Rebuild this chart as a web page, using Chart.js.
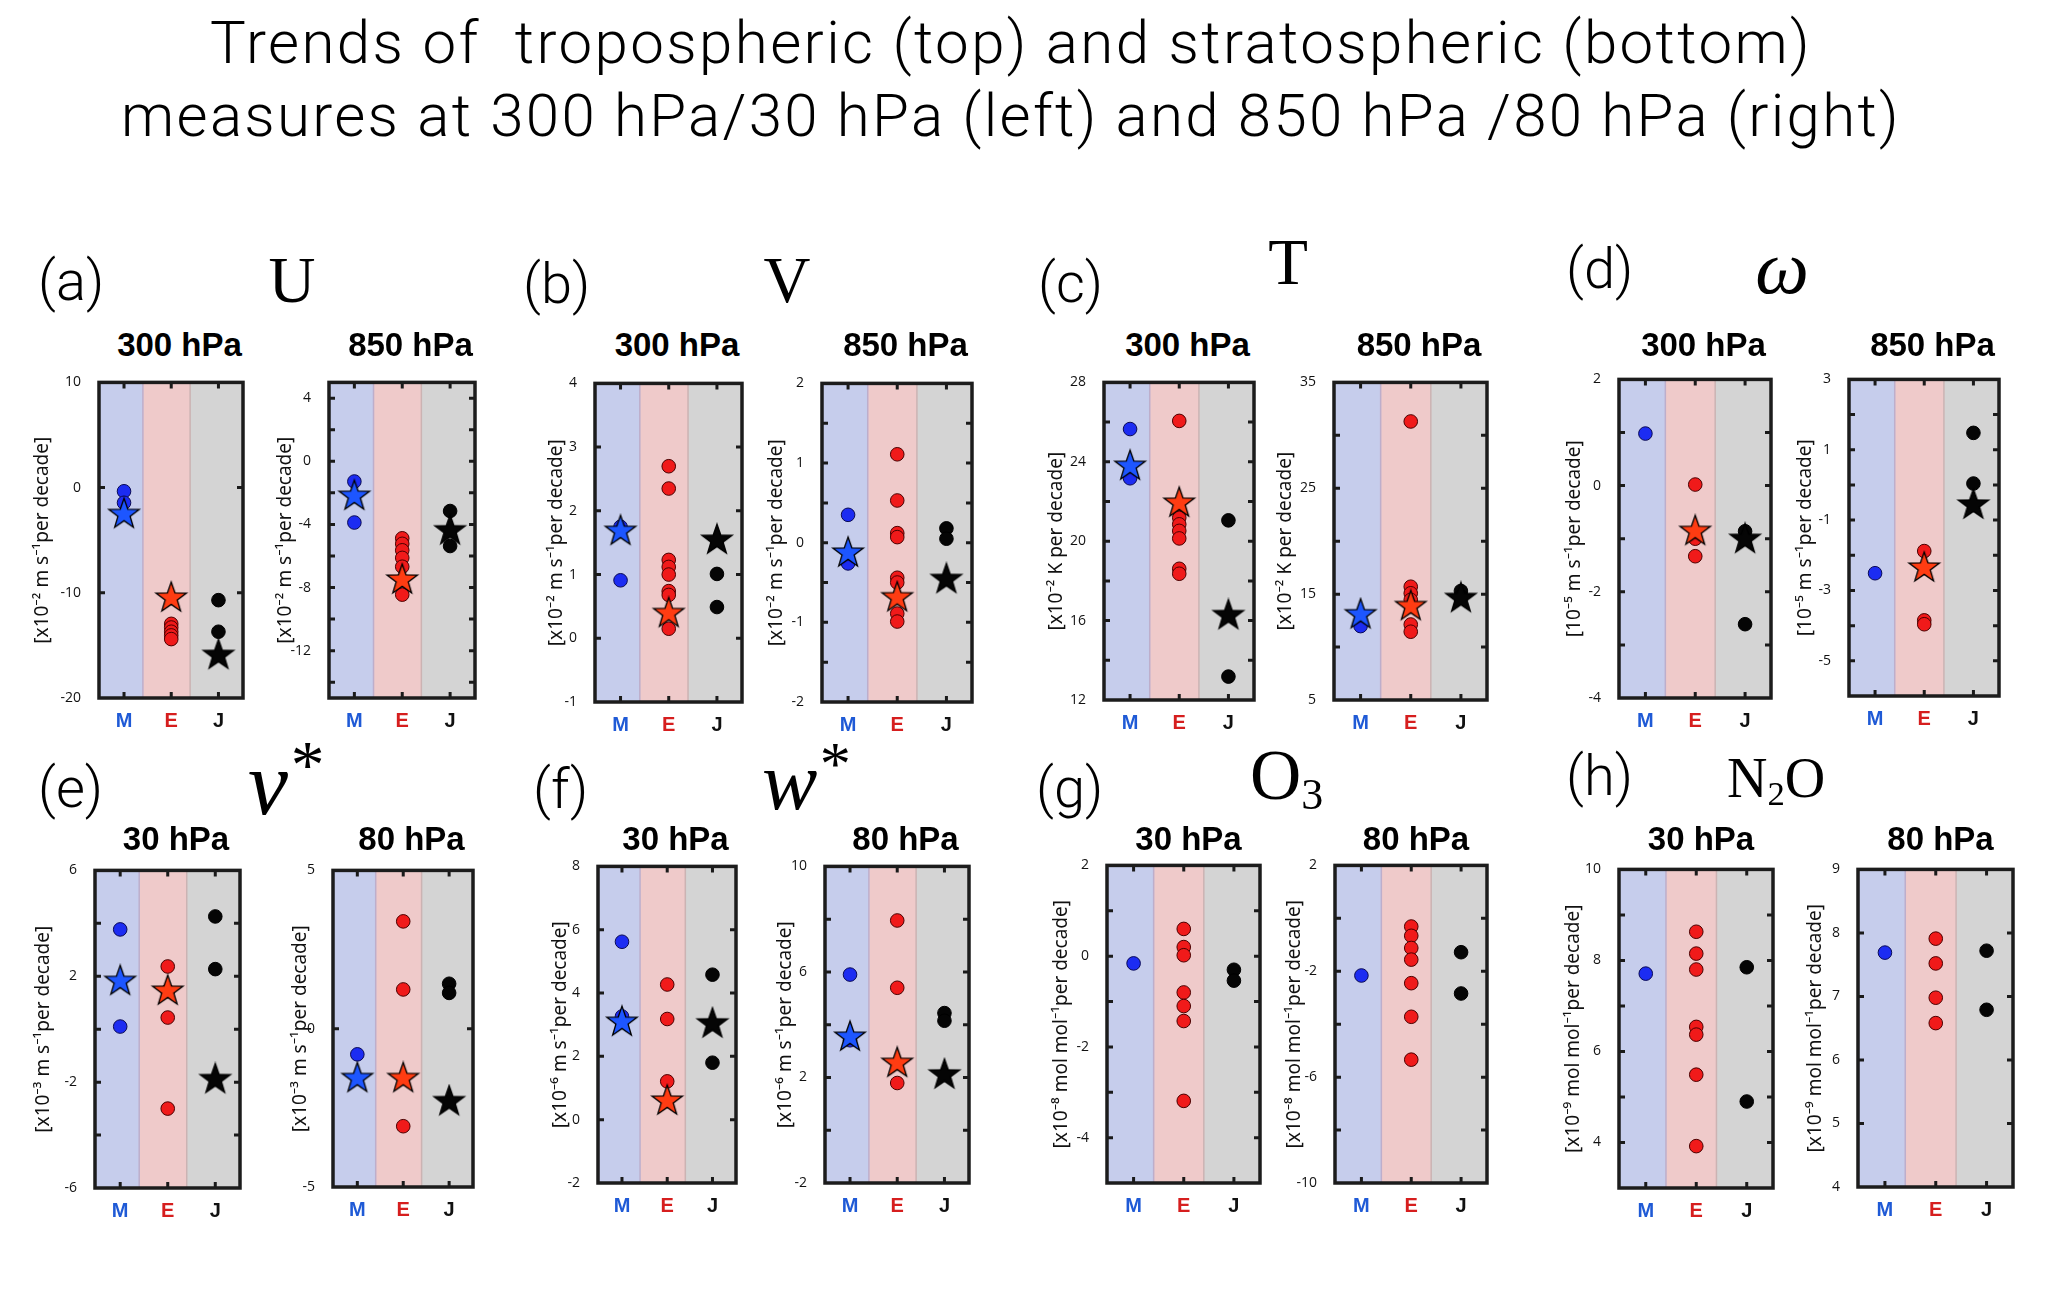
<!DOCTYPE html>
<html>
<head>
<meta charset="utf-8">
<title>Trends of tropospheric and stratospheric measures</title>
<script src="https://cdn.jsdelivr.net/npm/chart.js@4.4.1/dist/chart.umd.min.js"></script>
<style>
html, body { margin: 0; padding: 0; background: #fff; }
#page { position: relative; width: 2067px; height: 1297px; overflow: hidden; }
.lbl { position: absolute; white-space: pre; line-height: 1; color: #000; }
.plot { position: absolute; }
</style>
</head>
<body>
<div id="page"></div>
<script>
// ---- data ----
const groups = ['M', 'E', 'J'];

// dots = single simulations, stars = ensemble means (null = no star)
const u300Dots = [[-0.35, -1.44], [-12.95, -13.3, -13.7, -14.05, -14.4], [-10.7, -13.7]];
const u300Stars = [-2.54, -10.5, -15.94];
const u850Dots = [[-1.28, -3.88], [-4.88, -5.23, -5.64, -6.12, -6.68, -8.45], [-3.15, -5.37]];
const u850Stars = [-2.21, -7.52, -4.4];

const v300Dots = [[0.91, 1.75], [2.7, 2.35, 1.23, 1.12, 1.0, 0.74, 0.68, 0.15], [1.01, 0.49]];
const v300Stars = [1.68, 0.39, 1.54];
const v850Dots = [[0.35, -0.26], [1.11, 0.53, 0.12, 0.07, -0.44, -0.5, -0.89, -0.99], [0.18, 0.05]];
const v850Stars = [-0.13, -0.69, -0.46];

const t300Dots = [[25.65, 23.17], [26.06, 21.51, 21.18, 20.85, 20.52, 20.14, 18.61, 18.36], [21.05, 13.18]];
const t300Stars = [23.78, 21.92, 16.26];
const t850Dots = [[11.98], [31.31, 15.7, 15.08, 14.46, 12.13, 11.45], [15.3, 14.77]];
const t850Stars = [13.06, 13.84, 14.6];

const om300Dots = [[0.98], [0.02, -1.0, -1.33], [-0.86, -2.61]];
const om300Stars = [null, -0.86, -1.01];
const om850Dots = [[-2.51], [-1.88, -3.85, -3.96], [1.48, 0.04]];
const om850Stars = [null, -2.36, -0.57];

const vs30Dots = [[3.77, 0.1], [2.37, 1.44, 0.44, -3.0], [4.26, 2.27]];
const vs30Stars = [1.81, 1.44, -1.9];
const vs80Dots = [[-0.81], [3.39, 1.24, -3.08], [1.42, 1.13]];
const vs80Stars = [-1.57, -1.57, -2.3];

const ws30Dots = [[5.62, 3.26], [4.27, 3.18, 1.21], [4.58, 1.8]];
const ws30Stars = [3.08, 0.59, 3.03];
const ws80Dots = [[5.9, 3.41], [7.95, 5.4, 1.79], [4.44, 4.15]];
const ws80Stars = [3.53, 2.54, 2.1];

const o3_30Dots = [[-0.16], [0.6, 0.2, 0.02, -0.8, -1.1, -1.43, -3.19], [-0.3, -0.54]];
const o3_80Dots = [[-2.16], [-0.31, -0.66, -1.12, -1.56, -2.45, -3.72, -5.34], [-1.28, -2.84]];

const n2o30Dots = [[7.71], [8.63, 8.15, 7.8, 6.54, 6.37, 5.49, 3.92], [7.85, 4.9]];
const n2o80Dots = [[7.69], [7.91, 7.52, 6.98, 6.58], [7.72, 6.79]];

// y ranges and labelled ticks
const u300Range = [-20, 10], u300TickLabels = [10, 0, -10, -20];
const u850Range = [-15, 5], u850TickLabels = [4, 0, -4, -8, -12];
const v300Range = [-1, 4], v300TickLabels = [4, 3, 2, 1, 0, -1];
const v850Range = [-2, 2], v850TickLabels = [2, 1, 0, -1, -2];
const t300Range = [12, 28], t300TickLabels = [28, 24, 20, 16, 12];
const t850Range = [5, 35], t850TickLabels = [35, 25, 15, 5];
const om300Range = [-4, 2], om300TickLabels = [2, 0, -2, -4];
const om850Range = [-6, 3], om850TickLabels = [3, 1, -1, -3, -5];
const vs30Range = [-6, 6], vs30TickLabels = [6, 2, -2, -6];
const vs80Range = [-5, 5], vs80TickLabels = [5, 0, -5];
const ws30Range = [-2, 8], ws30TickLabels = [8, 6, 4, 2, 0, -2];
const ws80Range = [-2, 10], ws80TickLabels = [10, 6, 2, -2];
const o3_30Range = [-5, 2], o3_30TickLabels = [2, 0, -2, -4];
const o3_80Range = [-10, 2], o3_80TickLabels = [2, -2, -6, -10];
const n2o30Range = [3, 10], n2o30TickLabels = [10, 8, 6, 4];
const n2o80Range = [4, 9], n2o80TickLabels = [9, 8, 7, 6, 5, 4];

const unitWind2 = '[x10\u207B\u00B2 m s\u207B\u00B9per decade]';
const unitTemp = '[x10\u207B\u00B2 K per decade]';
const unitOmega = '[10\u207B\u2075 m s\u207B\u00B9per decade]';
const unitVstar = '[x10\u207B\u00B3 m s\u207B\u00B9per decade]';
const unitWstar = '[x10\u207B\u2076 m s\u207B\u00B9per decade]';
const unitO3 = '[x10\u207B\u2078 mol mol\u207B\u00B9per decade]';
const unitN2O = '[x10\u207B\u2079 mol mol\u207B\u00B9per decade]';

const panels = [
  { id: 'u300', title: '300 hPa', dots: u300Dots, stars: u300Stars, range: u300Range, step: 10, labels: u300TickLabels, unit: unitWind2 },
  { id: 'u850', title: '850 hPa', dots: u850Dots, stars: u850Stars, range: u850Range, step: 2, labels: u850TickLabels, unit: unitWind2 },
  { id: 'v300', title: '300 hPa', dots: v300Dots, stars: v300Stars, range: v300Range, step: 1, labels: v300TickLabels, unit: unitWind2 },
  { id: 'v850', title: '850 hPa', dots: v850Dots, stars: v850Stars, range: v850Range, step: 0.5, labels: v850TickLabels, unit: unitWind2 },
  { id: 't300', title: '300 hPa', dots: t300Dots, stars: t300Stars, range: t300Range, step: 2, labels: t300TickLabels, unit: unitTemp },
  { id: 't850', title: '850 hPa', dots: t850Dots, stars: t850Stars, range: t850Range, step: 5, labels: t850TickLabels, unit: unitTemp },
  { id: 'om300', title: '300 hPa', dots: om300Dots, stars: om300Stars, range: om300Range, step: 1, labels: om300TickLabels, unit: unitOmega },
  { id: 'om850', title: '850 hPa', dots: om850Dots, stars: om850Stars, range: om850Range, step: 1, labels: om850TickLabels, unit: unitOmega },
  { id: 'vs30', title: '30 hPa', dots: vs30Dots, stars: vs30Stars, range: vs30Range, step: 2, labels: vs30TickLabels, unit: unitVstar },
  { id: 'vs80', title: '80 hPa', dots: vs80Dots, stars: vs80Stars, range: vs80Range, step: 5, labels: vs80TickLabels, unit: unitVstar },
  { id: 'ws30', title: '30 hPa', dots: ws30Dots, stars: ws30Stars, range: ws30Range, step: 2, labels: ws30TickLabels, unit: unitWstar },
  { id: 'ws80', title: '80 hPa', dots: ws80Dots, stars: ws80Stars, range: ws80Range, step: 2, labels: ws80TickLabels, unit: unitWstar },
  { id: 'o3_30', title: '30 hPa', dots: o3_30Dots, stars: [], range: o3_30Range, step: 1, labels: o3_30TickLabels, unit: unitO3 },
  { id: 'o3_80', title: '80 hPa', dots: o3_80Dots, stars: [], range: o3_80Range, step: 2, labels: o3_80TickLabels, unit: unitO3 },
  { id: 'n2o30', title: '30 hPa', dots: n2o30Dots, stars: [], range: n2o30Range, step: 1, labels: n2o30TickLabels, unit: unitN2O },
  { id: 'n2o80', title: '80 hPa', dots: n2o80Dots, stars: [], range: n2o80Range, step: 1, labels: n2o80TickLabels, unit: unitN2O }
];

// ---- layout (page pixels) ----
// plot box [left, top, right, bottom], gap from y-title centre to the box
const boxes = {
  u300: [99, 378, 250, 698], u850: [329, 378, 482, 698],
  v300: [595, 379, 749, 702], v850: [822, 379, 979, 702],
  t300: [1104, 378, 1261, 700], t850: [1334, 378, 1494, 700],
  om300: [1619, 375, 1778, 698], om850: [1849, 375, 2006, 696],
  vs30: [95, 866, 247, 1188], vs80: [333, 866, 480, 1187],
  ws30: [598, 862, 743, 1183], ws80: [825, 862, 976, 1183],
  o3_30: [1107, 861, 1260, 1183], o3_80: [1335, 861, 1487, 1183],
  n2o30: [1619, 865, 1773, 1188], n2o80: [1858, 865, 2013, 1187]
};
const titleGaps = {
  u300: 56, u850: 43, v300: 38, v850: 45, t300: 47, t850: 48, om300: 44, om850: 43,
  vs30: 51, vs80: 32, ws30: 37, ws80: 39, o3_30: 45, o3_80: 40, n2o30: 45, n2o80: 42
};
const AXW = 70, PADT = 14, PADR = 10, AXB = 42;
const UNIT_SIZE = 19;

const bandFills = ['#c6cdec', '#efcaca', '#d4d4d4'];
const bandEdges = [1.4, 2.4];
const dotFill = ['#1c2cf2', '#f01a1a', '#050505'];
const dotEdge = ['#0a0a55', '#4a0000', '#000000'];
const starFill = ['#1d56ff', '#ff3c12', '#050505'];
const groupColors = ['#1f5ad6', '#d61e1e', '#111111'];

Chart.defaults.font.family = "'Noto Sans', 'Open Sans', sans-serif";

const page = document.getElementById('page');

function addText(html, x, baseline, size, css, center) {
  const d = document.createElement('div');
  d.className = 'lbl';
  d.innerHTML = html;
  d.style.cssText += css + ';font-size:' + size + 'px;left:' + x + 'px;top:' + (baseline - 0.84 * size) + 'px;' +
    (center ? 'transform:translateX(-50%);' : '');
  page.appendChild(d);
}

function starImage(fill, R) {
  const c = document.createElement('canvas');
  const s = Math.ceil(R * 2 + 4);
  c.width = s; c.height = s;
  const g = c.getContext('2d');
  g.beginPath();
  for (let i = 0; i < 10; i++) {
    const r = i % 2 ? R * 0.4 : R;
    const a = -Math.PI / 2 + i * Math.PI / 5;
    g.lineTo(s / 2 + r * Math.cos(a), s / 2 + r * Math.sin(a));
  }
  g.closePath();
  g.fillStyle = fill;
  g.fill();
  g.lineWidth = 1.3;
  g.strokeStyle = '#000';
  g.stroke();
  return c;
}
const starImgs = starFill.map(f => starImage(f, 16));

const framePlugin = {
  id: 'matlabFrame',
  beforeDatasetsDraw(chart) {
    const { ctx, chartArea: a, scales: { x, y } } = chart;
    const edges = [x.min, ...bandEdges, x.max];
    ctx.save();
    for (let i = 0; i < 3; i++) {
      const l = x.getPixelForValue(edges[i]);
      const r = x.getPixelForValue(edges[i + 1]);
      ctx.fillStyle = bandFills[i];
      ctx.fillRect(l, a.top, r - l, a.bottom - a.top);
    }
    ctx.lineWidth = 1.5;
    ['#bdaecb', '#cbb3b3'].forEach((c, i) => {
      const px = x.getPixelForValue(bandEdges[i]);
      ctx.strokeStyle = c;
      ctx.beginPath(); ctx.moveTo(px, a.top); ctx.lineTo(px, a.bottom); ctx.stroke();
    });
    // inward tick marks on all four sides
    ctx.strokeStyle = '#1a1a1a';
    ctx.lineWidth = 3;
    y.ticks.forEach(t => {
      const py = y.getPixelForValue(t.value);
      if (py < a.top + 3 || py > a.bottom - 3) return;
      ctx.beginPath();
      ctx.moveTo(a.left, py); ctx.lineTo(a.left + 6, py);
      ctx.moveTo(a.right - 6, py); ctx.lineTo(a.right, py);
      ctx.stroke();
    });
    x.ticks.forEach(t => {
      const px = x.getPixelForValue(t.value);
      ctx.beginPath();
      ctx.moveTo(px, a.top); ctx.lineTo(px, a.top + 6);
      ctx.moveTo(px, a.bottom - 6); ctx.lineTo(px, a.bottom);
      ctx.stroke();
    });
    ctx.lineWidth = 3.5;
    ctx.strokeStyle = '#1c1c1c';
    ctx.strokeRect(a.left, a.top, a.right - a.left, a.bottom - a.top);
    ctx.restore();
  }
};

function buildChart(p) {
  const [l, t, r, b] = boxes[p.id];
  const w = r - l + AXW + PADR;
  const h = b - t + PADT + AXB;
  const holder = document.createElement('div');
  holder.className = 'plot';
  holder.style.left = (l - AXW) + 'px';
  holder.style.top = (t - PADT) + 'px';
  const cv = document.createElement('canvas');
  cv.width = w; cv.height = h;
  cv.style.width = w + 'px'; cv.style.height = h + 'px';
  holder.appendChild(cv);
  page.appendChild(holder);

  const datasets = [];
  const starData = p.stars.map((v, i) => v == null ? null : { x: i + 1, y: v, g: i }).filter(Boolean);
  if (starData.length) {
    datasets.push({
      label: 'ensemble mean',
      data: starData,
      pointStyle: ctx => starImgs[ctx.raw ? ctx.raw.g : 0],
      pointRadius: 16,
      clip: false
    });
  }
  p.dots.forEach((vals, i) => {
    datasets.push({
      label: groups[i],
      data: vals.map(v => ({ x: i + 1, y: v })),
      pointStyle: 'circle',
      pointRadius: 6.8,
      pointBackgroundColor: dotFill[i],
      pointBorderColor: dotEdge[i],
      pointBorderWidth: 1,
      clip: false
    });
  });

  const [ymin, ymax] = p.range;
  const lh = UNIT_SIZE * 1.2;
  new Chart(cv, {
    type: 'scatter',
    data: { datasets },
    options: {
      responsive: false,
      animation: false,
      devicePixelRatio: 1,
      layout: { padding: { left: 0, top: PADT, right: PADR, bottom: 0 } },
      plugins: { legend: { display: false }, tooltip: { enabled: false } },
      events: [],
      scales: {
        x: {
          type: 'linear',
          min: 0.47,
          max: 3.52,
          grid: { display: false },
          border: { display: false },
          afterBuildTicks: s => { s.ticks = groups.map((g, i) => ({ value: i + 1 })); },
          afterFit: s => { s.height = AXB; },
          ticks: {
            autoSkip: false,
            maxRotation: 0,
            padding: 3,
            font: { family: "'Liberation Sans', Arial, sans-serif", size: 20, weight: 'bold' },
            color: ctx => groupColors[ctx.index],
            callback: v => groups[Math.round(v) - 1]
          }
        },
        y: {
          type: 'linear',
          min: ymin,
          max: ymax,
          grid: { display: false },
          border: { display: false },
          afterBuildTicks: s => {
            const out = [];
            const start = Math.ceil(ymin / p.step - 1e-9);
            for (let k = start; k * p.step <= ymax + 1e-9; k++) {
              out.push({ value: Math.round(k * p.step * 1000) / 1000 });
            }
            s.ticks = out;
          },
          afterFit: s => { s.width = AXW; },
          ticks: {
            autoSkip: false,
            padding: 10,
            color: '#111',
            font: { family: "'Open Sans', 'Noto Sans', sans-serif", size: 14 },
            callback: v => p.labels.some(q => Math.abs(q - v) < 1e-6) ? String(v) : ''
          },
          title: {
            display: true,
            text: p.unit,
            color: '#111',
            font: { family: "'Noto Sans', 'DejaVu Sans', sans-serif", size: UNIT_SIZE },
            padding: { top: AXW - titleGaps[p.id] - lh / 2, bottom: 0 }
          }
        }
      }
    },
    plugins: [framePlugin]
  });

  // subplot heading centred over the box
  const headBase = t < 600 ? 356 : 850;
  addText(p.title, (l + r) / 2 + 5, headBase, 33, "font-family:'Liberation Sans',Arial,sans-serif;font-weight:bold", true);
}

panels.forEach(buildChart);

// ---- figure-level text ----
const thin = "font-family:Roboto,'Open Sans',sans-serif;font-weight:300";
addText('Trends of  tropospheric (top) and stratospheric (bottom)', 1011, 63, 60, thin + ';letter-spacing:2.4px', true);
addText('measures at 300 hPa/30 hPa (left) and 850 hPa /80 hPa (right)', 1011, 136, 60, thin + ';letter-spacing:2.3px', true);

const letterLabels = [
  ['(a)', 38, 300], ['(b)', 523, 303], ['(c)', 1038, 302], ['(d)', 1566, 288],
  ['(e)', 38, 807], ['(f)', 533, 808], ['(g)', 1036, 807], ['(h)', 1566, 795]
];
letterLabels.forEach(([s, x, y]) => addText(s, x, y, 56, thin, false));

const serif = "font-family:'Liberation Serif','DejaVu Serif',serif";
const supStar = '<span style="font-size:0.75em;position:relative;top:-0.4em;margin-left:0.04em">*</span>';
addText('U', 292, 303, 65, serif, true);
addText('V', 787, 303, 65, serif, true);
addText('T', 1288, 285, 65, serif, true);
addText('<i>\u03C9</i>', 1782, 293, 76, serif, true);
addText('<i>v</i>' + supStar, 248, 815, 90, serif, false);
addText('<i>w</i>' + supStar, 762, 810, 83, serif, false);
addText('O<span style="font-size:0.62em;position:relative;top:0.22em">3</span>', 1250, 800, 71, serif, false);
addText('N<span style="font-size:0.62em;position:relative;top:0.22em">2</span>O', 1727, 797, 56, serif, false);
</script>
</body>
</html>
